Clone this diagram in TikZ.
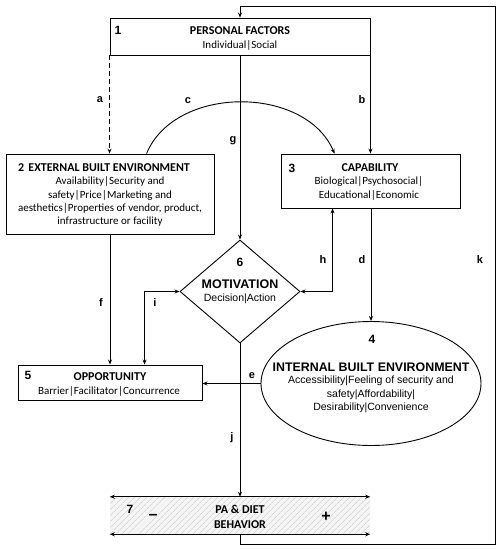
\documentclass[tikz,border=0pt]{standalone}
\usepackage{fontspec}
\setmainfont{Carlito}
\newfontfamily\arialf{Liberation Sans}
\usetikzlibrary{arrows.meta,shapes.geometric,patterns.meta,calc}
\begin{document}
\begin{tikzpicture}[x=1pt,y=-1pt,
  box/.style={draw,line width=0.9pt,rectangle,inner sep=0},
  conn/.style={line width=0.9pt},
  arr/.style={conn,-{Stealth[length=5pt,width=4pt]}},
  darr/.style={conn,{Stealth[length=5pt,width=4pt]}-{Stealth[length=5pt,width=4pt]}},
  lab/.style={font=\arialf\bfseries\fontsize{11}{13}\selectfont,inner sep=0},
  ttl/.style={font=\bfseries\fontsize{12}{14}\selectfont,inner sep=0},
  bod/.style={font=\fontsize{11}{13.3}\selectfont,align=center,inner sep=0},
  num/.style={font=\arialf\bfseries\fontsize{12}{14}\selectfont,inner sep=0},
  abig/.style={font=\arialf\bfseries\fontsize{12.4}{14}\selectfont,inner sep=0},
  abod/.style={font=\arialf\fontsize{10.5}{13.6}\selectfont,align=center,inner sep=0},
]
\useasboundingbox (0,0) rectangle (501,550);

% main shapes
\node[box,minimum width=260pt,minimum height=37pt] (pf) at (240,36.5) {};
\node[box,minimum width=208pt,minimum height=80pt] (ext) at (110,194) {};
\node[box,minimum width=179pt,minimum height=54pt] (cap) at (371,181) {};
\node[draw,line width=0.9pt,diamond,minimum width=120pt,minimum height=103pt,inner sep=0] (mot) at (240,291.5) {};
\node[box,minimum width=184pt,minimum height=35pt] (opp) at (110,382.5) {};
\node[draw,line width=0.9pt,ellipse,minimum width=220pt,minimum height=124pt,inner sep=0] (ibe) at (371,383.5) {};
\node[minimum width=260pt,minimum height=37pt,inner sep=0,
      preaction={fill=gray!8},
      pattern={Lines[angle=45,distance=4pt,line width=0.5pt]},pattern color=gray!45] (beh) at (240,515.5) {};
\draw[darr] (beh.north west) -- (beh.north east);
\draw[darr] (beh.south west) -- (beh.south east);

% texts
\node[num] (n1) at (118,30) {1};
\node[ttl] (t1) at (240,31) {PERSONAL FACTORS};
\node[bod] (b1) at (240,45) {Individual|Social};

\node[ttl] (t2) at (104,168) {2\hspace{0.35em}EXTERNAL BUILT ENVIRONMENT};
\node[bod] (b2) at (110,201.8) {Availability|Security and\\ safety|Price|Marketing and\\ aesthetics|Properties of vendor, product,\\ infrastructure or facility};

\node[num] (n3) at (292,168) {3};
\node[ttl] (t3) at (370,168) {CAPABILITY};
\node[bod] (b3) at (369,188.5) {Biological|Psychosocial|\\ Educational|Economic};

\node[num] (n5) at (28,375) {5};
\node[ttl] (t5) at (110,377) {OPPORTUNITY};
\node[bod] (b5) at (109,391) {Barrier|Facilitator|Concurrence};

\node[num] (n6) at (240,262) {6};
\node[font=\arialf\bfseries\fontsize{12.5}{14}\selectfont,inner sep=0] (t6) at (240,284) {MOTIVATION};
\node[font=\arialf\fontsize{10.5}{13}\selectfont,inner sep=0] (b6) at (240,299) {Decision|Action};

\node[num] (n4) at (372,339) {4};
\node[abig] (t4) at (371,367) {INTERNAL BUILT ENVIRONMENT};
\node[abod] (b4) at (371,394.5) {Accessibility|Feeling of security and\\ safety|Affordability|\\ Desirability|Convenience};

\node[num] (n7) at (130,509) {7};
\node[font=\arialf\bfseries\fontsize{16}{16}\selectfont,inner sep=0] (minus) at (153,517) {\textendash};
\node[font=\arialf\bfseries\fontsize{16}{16}\selectfont,inner sep=0] (plus) at (326,517) {+};
\node[font=\bfseries\fontsize{12}{15}\selectfont,align=center,inner sep=0] (t7) at (240,516.5) {PA \& DIET\\ BEHAVIOR};

% connectors
\draw[arr,dash pattern=on 5pt off 3pt] (pf.south west) -- (pf.south west |- ext.north);
\draw[arr] (pf.south east) -- (pf.south east |- cap.north);
\draw[arr] (pf.south) -- (mot.north);
\draw[arr] ($(ext.north west)+(141,0)$) .. controls (175,85) and (305,85) .. ($(cap.north west)+(53.5,0)$);
\draw[darr] (mot.east) -| ($(cap.south west)+(51.5,0)$);
\draw[arr] (cap.south) -- (ibe.north);
\draw[arr] (ibe.west) -- (ibe.west -| opp.east);
\draw[arr] (ext.south) -- (opp.north);
\draw[darr] (mot.west) -| ($(opp.north west)+(127,0)$);
\draw[arr] (mot.south) -- (beh.north);
\coordinate (kc) at (495,6);
\draw[arr] (beh.south) -- ++(0,10) -| (kc) -| (pf.north);

% connector labels
\node[lab] (la) at (100,100) {a};
\node[lab] (lb) at (362,100) {b};
\node[lab] (lc) at (188,101) {c};
\node[lab] (lg) at (233,141) {g};
\node[lab] (lh) at (323,260) {h};
\node[lab] (ld) at (362,260) {d};
\node[lab] (lk) at (480,260) {k};
\node[lab] (lf) at (101,303) {f};
\node[lab] (li) at (155,303) {i};
\node[lab] (le) at (252,376) {e};
\node[lab] (lj) at (232,438) {j};
\end{tikzpicture}
\end{document}
